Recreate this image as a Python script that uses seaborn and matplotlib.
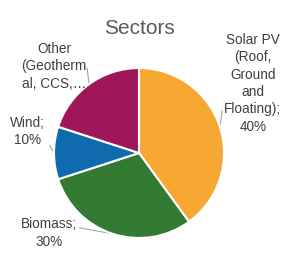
import numpy as np
import matplotlib
matplotlib.use("Agg")
import matplotlib.pyplot as plt
import seaborn as sns

# === Data === #
sectors = ["Solar PV (Roof, Ground and Floating)", "Biomass", "Wind", "Other (Geothermal, CCS, ...)"]
shares = [40, 30, 10, 20]
colors = ["#F6A833", "#337A32", "#106BAE", "#A01759"]
# label texts as wrapped (and truncated) on the chart
label_texts = ["Solar PV\n(Roof,\nGround\nand\nFloating);\n40%", "Biomass;\n30%", "Wind;\n10%",
               "Other\n(Geotherm\nal, CCS,\u2026"]

# label layout: text centre and leader line end (pie radius units)
label_pos = [(1.34, 0.82), (-1.06, -0.94), (-1.31, 0.25), (-1.0, 1.02)]
leader_end = [(0.98, 0.50), (-0.70, -0.88), (-1.05, 0.09), (-0.61, 1.00)]

sns.set_theme(style="white")
plt.rcParams["font.family"] = ["Liberation Sans", "DejaVu Sans"]

fig = plt.figure(figsize=(2.99, 2.64), dpi=100)
ax = fig.add_axes([0, 0, 1, 1])

wedges, _ = ax.pie(shares, colors=colors, startangle=90, counterclock=False,
                   radius=1.0, wedgeprops=dict(edgecolor="white", linewidth=1.5))

for w, txt, (tx, ty), (lx, ly) in zip(wedges, label_texts, label_pos, leader_end):
    mid = np.deg2rad((w.theta1 + w.theta2) / 2)
    ex, ey = np.cos(mid), np.sin(mid)
    ax.plot([ex, lx], [ey, ly], color="#A6A6A6", lw=0.8, zorder=0)
    ax.text(tx, ty, txt, ha="center", va="center",
            fontsize=9.8, color="#404040", linespacing=1.3)

ax.text(0, 1.47, "Sectors", ha="center", va="center", fontsize=15, color="#595959")

ax.set_xlim(-139 / 85, 160 / 85)
ax.set_ylim(-111 / 85, 153 / 85)
ax.set_aspect("auto")
ax.axis("off")

fig.savefig("out.png", dpi=100)
